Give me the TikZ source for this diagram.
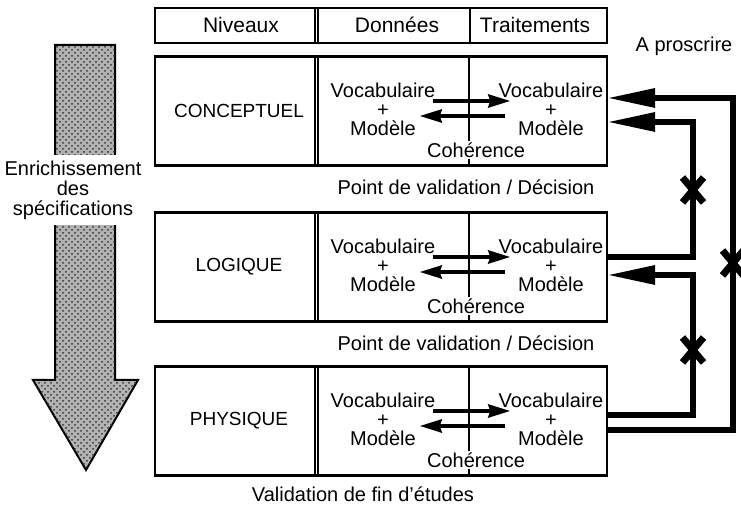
\documentclass[tikz,border=0pt]{standalone}
\usepackage{fontspec}
\setmainfont{Liberation Sans}
\usetikzlibrary{arrows.meta, patterns, shapes.misc, positioning}
\tikzset{
    rowbox/.style={draw, line width=1.2pt, minimum width=226pt, minimum height=54.5pt, inner sep=0pt},
    headbox/.style={draw, line width=1.2pt, minimum width=226pt, minimum height=17.5pt, inner sep=0pt},
    sep/.style={line width=0.6pt},
    level/.style={font=\fontsize{9.5}{11}\selectfont, inner sep=1pt},
    headtext/.style={font=\fontsize{10.5}{12}\selectfont, inner sep=1pt},
    vocab/.style={align=center, font=\fontsize{10}{9.5}\selectfont, inner sep=1pt},
    note/.style={font=\fontsize{10}{12}\selectfont, inner sep=1pt},
    swap/.style={line width=2pt, -{Stealth[length=11pt, width=6.5pt, inset=1pt]}},
    feedback/.style={line width=3pt, -{Triangle[length=24pt, width=9pt]}},
    xmark/.style={cross out, draw, line width=3.5pt, minimum width=7pt, minimum height=9pt, inner sep=0pt},
    bigarrow/.style={draw, line width=1pt, fill=gray!60, postaction={pattern=crosshatch dots, pattern color=black!80}},
}

\begin{document}
\begin{tikzpicture}[x=0.5pt, y=-0.5pt]
    \useasboundingbox (0,0) rectangle (741,512);

    % header
    \node[headbox] (head) at (381,25.5) {};
    \draw[sep] (315,8) -- (315,43) (318,8) -- (318,43);
    \draw[sep] (470,8) -- (470,43);
    \node[headtext] (niv) at (241,25) {Niveaux};
    \node[headtext] (don) at (397,25) {Données};
    \node[headtext] (trt) at (535,25) {Traitements};
    \node[note] (proscr) at (684,46) {A proscrire};

    % the three levels
    \foreach \name/\lvl/\yc in {conc/CONCEPTUEL/111, logi/LOGIQUE/267, phys/PHYSIQUE/421} {
        \node[rowbox] (\name) at (381,\yc) {};
        \draw[sep] (315,\yc-54.5) -- (315,\yc+54.5) (318,\yc-54.5) -- (318,\yc+54.5);
        \draw[sep] (469,\yc-54.5) -- (469,\yc+54.5);
        \node[level] (\name-lvl) at (239,\yc) {\lvl};
        \node[vocab] (\name-dl) at (383,\yc-2) {Vocabulaire\\+\\Modèle};
        \node[vocab] (\name-tr) at (551,\yc-2) {Vocabulaire\\+\\Modèle};
        \draw[swap] ([shift={(-2.5pt,4pt)}]\name-dl.east) -- ([shift={(7pt,4pt)}]\name-tr.west);
        \draw[swap] ([shift={(4.5pt,-3.5pt)}]\name-tr.west) -- ([shift={(-9pt,-3.5pt)}]\name-dl.east);
        \node[note, fill=white] (\name-coh) at (476,\yc+39) {Cohérence};
    }

    \node[note] (val1) at (466,187) {Point de validation / Décision};
    \node[note] (val2) at (466,343) {Point de validation / Décision};
    \node[note] (final) at (363,494) {Validation de fin d'études};

    % enrichment arrow
    \draw[bigarrow] (55,45) -- (115,45) -- (115,380) -- (138,380) -- (86,470)
        -- (33,380) -- (55,380) -- cycle;
    \node[note, fill=white, align=center, font=\fontsize{10}{10}\selectfont,
        inner xsep=1pt, inner ysep=3pt] (enrich) at (73,190)
        {Enrichissement\\des\\spécifications};

    % feedback to forbid
    \coordinate (conc-a) at (607,98);
    \coordinate (conc-b) at (607,122);
    \coordinate (logi-o) at (607,257);
    \coordinate (logi-b) at (607,275);
    \coordinate (phys-o) at (607,415);
    \coordinate (phys-p) at (607,430);
    \coordinate (inner) at (693,0);
    \coordinate (outer) at (733,0);
    \draw[feedback] (logi-o) -| (inner |- conc-b) -- (conc-b);
    \draw[feedback] (phys-o) -| (inner |- logi-b) -- (logi-b);
    \draw[feedback] (phys-p) -| (outer |- conc-a) -- (conc-a);
    \node[xmark] (cut1) at (693,190) {};
    \node[xmark] (cut2) at (693,350) {};
    \node[xmark] (cut3) at (733,263) {};
\end{tikzpicture}
\end{document}
